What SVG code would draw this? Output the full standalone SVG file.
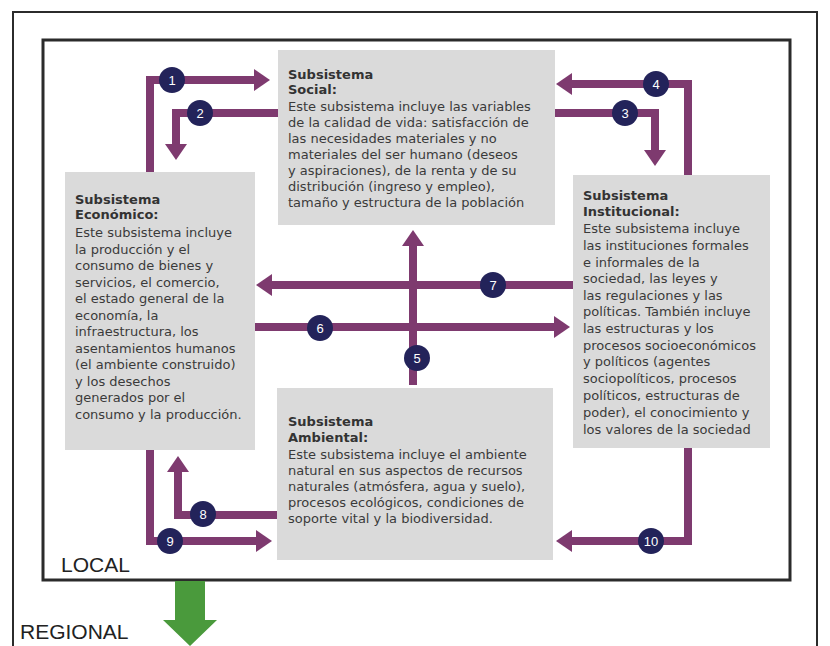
<svg xmlns="http://www.w3.org/2000/svg" width="830" height="646" viewBox="0 0 830 646">
<style>
.frame{fill:none;stroke:#2b2b2b}
.box{fill:#dadada}
.t{font-family:"DejaVu Sans",Verdana,sans-serif;font-size:13px;fill:#3a3a3a}
.h{font-weight:bold;fill:#333}
.con{fill:none;stroke:#7e3a6f;stroke-width:8;stroke-linejoin:miter}
.arr{marker-end:url(#ah)}
.num circle{fill:#23235a}
.num text{font-family:"Liberation Sans",Arial,sans-serif;font-size:13px;fill:#fff;text-anchor:middle}
.lbl{font-family:"Liberation Sans",Arial,sans-serif;font-size:21px;fill:#222}
</style>
<defs>
<marker id="ah" markerUnits="userSpaceOnUse" viewBox="0 0 16 22" markerWidth="16" markerHeight="22" refX="2" refY="11" orient="auto">
<path d="M0,0 L16,11 L0,22 Z" fill="#7e3a6f"/>
</marker>
</defs>
<rect width="830" height="646" fill="#fff"/>
<rect class="frame" x="13" y="12" width="804" height="660" stroke-width="2"/>
<rect class="frame" x="43" y="40" width="747" height="540" stroke-width="3"/>

<g id="connectors">
<path class="con arr" d="M150,300 V80 H256"/>
<path class="con arr" d="M150,300 V541 H258"/>
<path class="con arr" d="M278,113 H176 V146"/>
<path class="con arr" d="M555,113 H655 V152"/>
<path class="con arr" d="M688,300 V84 H570"/>
<path class="con arr" d="M688,300 V541 H570"/>
<path class="con arr" d="M573,285 H270"/>
<path class="con arr" d="M255,327 H556"/>
<path class="con arr" d="M413,385 V244"/>
<path class="con arr" d="M277,515 H178 V470"/>
<polygon points="175,581 205,581 205,620 217,620 190,646 163,620 175,620" fill="#4a9a3c"/>
</g>

<g id="social">
<rect class="box" x="278" y="50" width="277" height="175"/>
<text class="t"><tspan class="h" x="288" y="79">Subsistema</tspan><tspan class="h" x="288" y="94">Social:</tspan><tspan x="288" y="111">Este subsistema incluye las variables</tspan><tspan x="288" y="127">de la calidad de vida: satisfacción de</tspan><tspan x="288" y="143">las necesidades materiales y no</tspan><tspan x="288" y="159">materiales del ser humano (deseos</tspan><tspan x="288" y="175">y aspiraciones), de la renta y de su</tspan><tspan x="288" y="191">distribución (ingreso y empleo),</tspan><tspan x="288" y="207">tamaño y estructura de la población</tspan></text>
</g>

<g id="economico">
<rect class="box" x="65" y="172" width="190" height="278"/>
<text class="t"><tspan class="h" x="75" y="204">Subsistema</tspan><tspan class="h" x="75" y="219">Económico:</tspan><tspan x="75" y="237">Este subsistema incluye</tspan><tspan x="75" y="253.5">la producción y el</tspan><tspan x="75" y="270">consumo de bienes y</tspan><tspan x="75" y="286.5">servicios, el comercio,</tspan><tspan x="75" y="303">el estado general de la</tspan><tspan x="75" y="319.5">economía, la</tspan><tspan x="75" y="336">infraestructura, los</tspan><tspan x="75" y="352.5">asentamientos humanos</tspan><tspan x="75" y="369">(el ambiente construido)</tspan><tspan x="75" y="385.5">y los desechos</tspan><tspan x="75" y="402">generados por el</tspan><tspan x="75" y="418.5">consumo y la producción.</tspan></text>
</g>

<g id="institucional">
<rect class="box" x="573" y="175" width="197" height="273"/>
<text class="t"><tspan class="h" x="583" y="200">Subsistema</tspan><tspan class="h" x="583" y="216">Institucional:</tspan><tspan x="583" y="233">Este subsistema incluye</tspan><tspan x="583" y="250">las instituciones formales</tspan><tspan x="583" y="267">e informales de la</tspan><tspan x="583" y="283">sociedad, las leyes y</tspan><tspan x="583" y="300">las regulaciones y las</tspan><tspan x="583" y="316">políticas. También incluye</tspan><tspan x="583" y="333">las estructuras y los</tspan><tspan x="583" y="350">procesos socioeconómicos</tspan><tspan x="583" y="366">y políticos (agentes</tspan><tspan x="583" y="383">sociopolíticos, procesos</tspan><tspan x="583" y="400">políticos, estructuras de</tspan><tspan x="583" y="417">poder), el conocimiento y</tspan><tspan x="583" y="434">los valores de la sociedad</tspan></text>
</g>

<g id="ambiental">
<rect class="box" x="277" y="388" width="276" height="172"/>
<text class="t"><tspan class="h" x="288" y="426">Subsistema</tspan><tspan class="h" x="288" y="442">Ambiental:</tspan><tspan x="288" y="459">Este subsistema incluye el ambiente</tspan><tspan x="288" y="475">natural en sus aspectos de recursos</tspan><tspan x="288" y="491">naturales (atmósfera, agua y suelo),</tspan><tspan x="288" y="507">procesos ecológicos, condiciones de</tspan><tspan x="288" y="523">soporte vital y la biodiversidad.</tspan></text>
</g>

<g id="numbers" class="num">
<g id="n1"><circle cx="172" cy="80" r="13"/><text x="172" y="85">1</text></g>
<g id="n2"><circle cx="200" cy="113" r="13"/><text x="200" y="118">2</text></g>
<g id="n3"><circle cx="625" cy="113" r="13"/><text x="625" y="118">3</text></g>
<g id="n4"><circle cx="656" cy="84" r="13"/><text x="656" y="89">4</text></g>
<g id="n5"><circle cx="417" cy="358" r="13"/><text x="417" y="363">5</text></g>
<g id="n6"><circle cx="320" cy="328" r="13"/><text x="320" y="333">6</text></g>
<g id="n7"><circle cx="493" cy="285" r="13"/><text x="493" y="290">7</text></g>
<g id="n8"><circle cx="203" cy="514" r="13"/><text x="203" y="519">8</text></g>
<g id="n9"><circle cx="170" cy="541" r="13"/><text x="170" y="546">9</text></g>
<g id="n10"><circle cx="651" cy="541" r="13"/><text x="651" y="546">10</text></g>
</g>

<text class="lbl" x="61" y="572">LOCAL</text>
<text class="lbl" x="20" y="639">REGIONAL</text>
</svg>
